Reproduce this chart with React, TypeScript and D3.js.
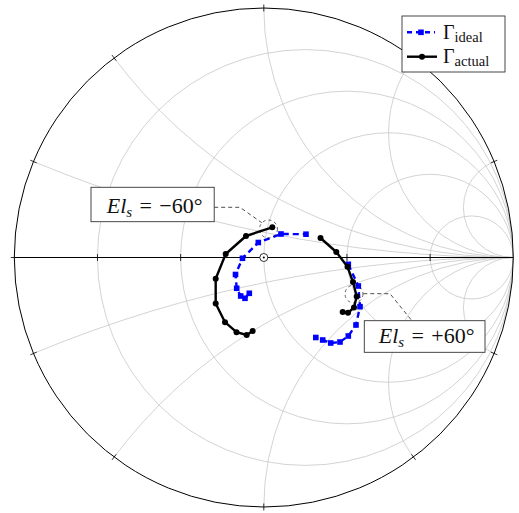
import React from "react";
import * as d3 from "d3";

const W = 519;
const H = 513;
const CX = 263.8;
const CY = 257.5;
const R = 249.5;

// Smith chart grid values
const resistanceGrid = [0.2, 0.5, 1, 2, 5];
const reactanceGrid = [0.2, 0.5, 1, 2, 5, -0.2, -0.5, -1, -2, -5];
const realAxisTicks = [0.2, 0.5, 1, 2, 5];
const rimTicks = [0, 0.2, 0.5, 1, 2, 5, -0.2, -0.5, -1, -2, -5];

// Γ_ideal (real, imag); null marks the break in the sweep
const idealRe = [-0.0581, -0.0754, -0.0926, -0.1086, -0.1134, -0.0854, -0.022, 0.0689, 0.1691, null,
  0.3387, 0.3788, 0.3856, 0.3695, 0.3387, 0.3054, 0.2681, 0.2361, 0.2084];
const idealIm = [-0.1435, -0.1635, -0.1543, -0.1234, -0.0681, -0.0032, 0.0601, 0.0942, 0.0934, null,
  -0.0273, -0.1142, -0.1972, -0.2705, -0.3146, -0.3387, -0.3427, -0.3307, -0.3206];

// Γ_actual (real, imag)
const actualRe = [0.0341, -0.0713, -0.1527, -0.1928, -0.1928, -0.1555, -0.1094, -0.0685, -0.0445, null,
  0.2273, 0.2906, 0.3355, 0.3575, 0.3723, 0.3615, 0.3375, 0.3162];
const actualIm = [0.121, 0.0862, 0.014, -0.0854, -0.1844, -0.2593, -0.2994, -0.3106, -0.2946, null,
  0.0782, 0.022, -0.0373, -0.0982, -0.1563, -0.2004, -0.2216, -0.2184];

// Annotations (Γ-plane coordinates)
const annotations = [
  {
    label: "−60°",
    circle: [0.0188, 0.1142],
    circleR: 0.036,
    pin: [[-0.1988, 0.2012], [-0.0954, 0.2012], [-0.0084, 0.1395]],
    box: [-0.6926, 0.2814, -0.1988, 0.1435],
  },
  {
    label: "+60°",
    circle: [0.3615, -0.1463],
    circleR: 0.036,
    pin: [[0.3988, -0.1451], [0.5058, -0.1451], [0.5928, -0.2525]],
    box: [0.4028, -0.2533, 0.8866, -0.38],
  },
];

const legendLabels = ["ideal", "actual"];

export default function App() {
  const x = d3.scaleLinear().domain([-1, 1]).range([CX - R, CX + R]);
  const y = d3.scaleLinear().domain([-1, 1]).range([CY + R, CY - R]);
  const len = (v: number) => x(v) - x(0);

  type P = [number | null, number | null];
  const ideal: P[] = idealRe.map((r, i) => [r, idealIm[i]]);
  const actual: P[] = actualRe.map((r, i) => [r, actualIm[i]]);
  const line = d3
    .line<P>()
    .defined((d) => d[0] != null)
    .x((d) => x(d[0] as number))
    .y((d) => y(d[1] as number));

  const grid = "#c8c8c8";
  const serif = "'Liberation Serif', 'DejaVu Serif', serif";

  return (
    <svg width={W} height={H} style={{ position: "absolute", left: 0, top: 0 }}>
      <defs>
        <clipPath id="disk">
          <circle cx={x(0)} cy={y(0)} r={len(1)} />
        </clipPath>
      </defs>
      <rect x={0} y={0} width={W} height={H} fill="#fff" />
      <g clipPath="url(#disk)" fill="none" stroke={grid} strokeWidth={0.8}>
        {resistanceGrid.map((r) => (
          <circle key={"r" + r} cx={x(r / (1 + r))} cy={y(0)} r={len(1 / (1 + r))} />
        ))}
        {reactanceGrid.map((xx) => (
          <circle key={"x" + xx} cx={x(1)} cy={y(1 / xx)} r={len(1 / Math.abs(xx))} />
        ))}
      </g>
      <circle cx={x(0)} cy={y(0)} r={len(1)} fill="none" stroke="#000" strokeWidth={1} />
      <line x1={x(-1)} x2={x(1)} y1={y(0)} y2={y(0)} stroke="#000" strokeWidth={1} />
      {realAxisTicks.map((r) => {
        const u = (r - 1) / (r + 1);
        return <line key={"t" + r} x1={x(u)} x2={x(u)} y1={y(0) - 3.5} y2={y(0) + 3.5} stroke="#000" strokeWidth={0.8} />;
      })}
      {rimTicks.map((X) => {
        const re = (X * X - 1) / (X * X + 1);
        const im = (2 * X) / (X * X + 1);
        const a = Math.atan2(im, re);
        const r0 = 1 - 3.5 / R;
        const r1 = 1 + 3.5 / R;
        return (
          <line key={"rt" + X} x1={x(r0 * Math.cos(a))} y1={y(r0 * Math.sin(a))} x2={x(r1 * Math.cos(a))} y2={y(r1 * Math.sin(a))} stroke="#000" strokeWidth={0.8} />
        );
      })}
      <circle cx={x(0)} cy={y(0)} r={4} fill="#fff" stroke="#000" strokeWidth={0.8} />
      <circle cx={x(0)} cy={y(0)} r={1} fill="#000" />

      {/* ideal */}
      <path d={line(ideal) || ""} fill="none" stroke="#0000ff" strokeWidth={2.4} strokeDasharray="6,4" />
      {ideal.filter((d) => d[0] != null).map((d, i) => (
        <rect key={"i" + i} x={x(d[0] as number) - 2.8} y={y(d[1] as number) - 2.8} width={5.6} height={5.6} fill="#0000ff" />
      ))}
      {/* actual */}
      <path d={line(actual) || ""} fill="none" stroke="#000" strokeWidth={2.4} strokeLinejoin="round" />
      {actual.filter((d) => d[0] != null).map((d, i) => (
        <circle key={"a" + i} cx={x(d[0] as number)} cy={y(d[1] as number)} r={3} fill="#000" />
      ))}

      {/* annotations */}
      {annotations.map((an, k) => {
        const [bx0, by0, bx1, by1] = an.box;
        const px0 = x(bx0), px1 = x(bx1), py0 = y(by0), py1 = y(by1);
        return (
          <g key={"an" + k}>
            <circle cx={x(an.circle[0])} cy={y(an.circle[1])} r={len(an.circleR)} fill="none" stroke="#000" strokeWidth={0.6} strokeDasharray="3,3" />
            <polyline points={an.pin.map((p) => `${x(p[0])},${y(p[1])}`).join(" ")} fill="none" stroke="#000" strokeWidth={0.7} strokeDasharray="4,3" />
            <rect x={px0} y={py0} width={px1 - px0} height={py1 - py0} fill="#fff" stroke="#333" strokeWidth={0.9} />
            <text x={(px0 + px1) / 2 + 2} y={py1 - 9} textAnchor="middle" fontFamily={serif} fontSize={22} fill="#111">
              <tspan fontStyle="italic">El</tspan>
              <tspan fontStyle="italic" fontSize={15} dy={4}>s</tspan>
              <tspan dy={-4}>{"\u2004=\u2004" + an.label}</tspan>
            </text>
          </g>
        );
      })}

      {/* legend */}
      <g>
        <rect x={402} y={16} width={103} height={56} fill="#fff" stroke="#333" strokeWidth={0.9} />
        <line x1={407} x2={435} y1={32.3} y2={32.3} stroke="#0000ff" strokeWidth={2.4} strokeDasharray="5,4" />
        <rect x={421 - 2.8} y={32.3 - 2.8} width={5.6} height={5.6} fill="#0000ff" />
        <line x1={407} x2={437} y1={56.7} y2={56.7} stroke="#000" strokeWidth={2.4} />
        <circle cx={422} cy={56.7} r={3} fill="#000" />
        {legendLabels.map((lab, i) => (
          <text key={lab} x={443} y={38.5 + i * 24.4} fontFamily={serif} fontSize={20} fill="#111">
            Γ<tspan fontSize={14.5} dy={3}>{lab}</tspan>
          </text>
        ))}
      </g>
    </svg>
  );
}
